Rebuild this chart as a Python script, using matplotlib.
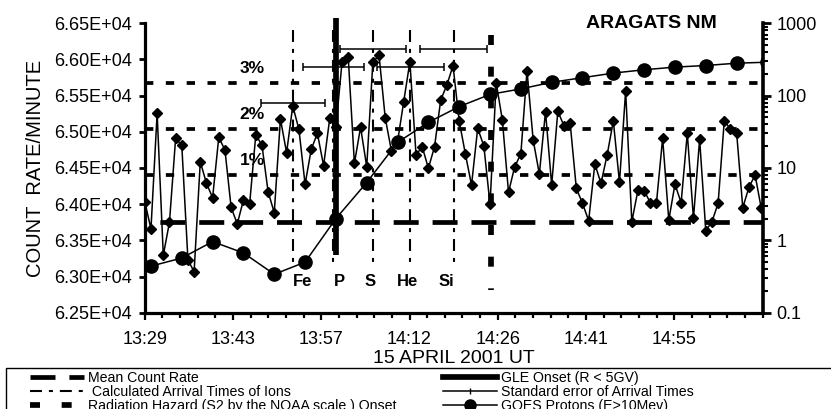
import numpy as np
import matplotlib
matplotlib.use('Agg')
import matplotlib.pyplot as plt
from matplotlib.lines import Line2D
from matplotlib.patches import Rectangle
from matplotlib.ticker import FixedLocator, MultipleLocator, FuncFormatter, LogLocator, NullFormatter

plt.rcParams['font.family'] = ['Liberation Sans', 'DejaVu Sans']
plt.rcParams['lines.scale_dashes'] = False

# Aragats NM, counts per minute, one value a minute starting 13:29 UT
nm_count = [64034, 63657, 65256, 63293, 63750, 64910, 64814, 63228, 63067, 64587,
            64289, 64090, 64924, 64749, 63957, 63726, 64058, 63998, 64956, 64818,
            64172, 63882, 65177, 64712, 65357, 65035, 64275, 64758, 64979, 64532,
            65187, 65063, 65969, 66030, 64565, 65063, 64518, 65969, 66055, 65194,
            64739, 64864, 65417, 65969, 64680, 64795, 64496, 64795, 65440, 65647,
            65914, 65150, 64694, 64265, 65049, 64804, 63998, 65679, 65163, 64164,
            64518, 64694, 65845, 64887, 64417, 65278, 64265, 65285, 65081, 65118,
            64219, 64012, 63772, 64555, 64289, 64680, 65150, 64302, 65568, 63758,
            64196, 64187, 64021, 64021, 64910, 63781, 64275, 64021, 64979, 63805,
            64897, 63634, 63758, 64012, 65154, 65035, 64988, 63951, 64233, 64403,
            63943]
t_nm = np.arange(len(nm_count))

# GOES protons E>10 MeV (pfu), 5-min values, minutes after 13:29
goes_t = [-4, 1, 6, 11, 16, 21, 26, 31, 36, 41, 46, 51, 56, 61, 66, 71, 76, 81, 86, 91, 96, 101]
goes_flux = [0.65, 0.44, 0.57, 0.96, 0.67, 0.34, 0.50, 2.0, 6.3, 22.6, 42.8, 70.6,
             104, 124, 153, 177, 205, 228, 248, 261, 281, 290]

mean_rate = 63760
pct_levels = [1, 2, 3]

ion_names = ['Fe', 'P', 'S', 'He', 'Si']
ion_arrival = [24.1, 30.6, 37.0, 43.1, 50.1]
ion_err = [5.2, 4.9, 5.4, 5.4, 5.4]
ion_err_y = [65400, 65900, 66150, 65900, 66150]

gle_onset = 31.0
hazard_onset = 56.2

tick_labels = ['13:29', '13:43', '13:57', '14:12', '14:26', '14:41', '14:55']

fig = plt.figure(figsize=(8.31, 4.09), dpi=100)
ax = fig.add_axes([144.8/831, 1-312.7/409, (762.5-144.8)/831, (312.7-23.3)/409])
ax2 = ax.twinx()

xmax = 100.2
step = xmax / 7

# threshold lines
ax.axhline(mean_rate, color='k', lw=3.4, ls=(17.3, (18, 10)), zorder=2)
for p in pct_levels:
    lev = mean_rate * (1 + p / 100)
    ax.axhline(lev, color='k', lw=2.7, ls=(0, (6, 9)), zorder=2)
    ax.text(15.4, lev + 200, f'{p}%', fontsize=12.5, fontweight='bold', ha='left', va='center')

# ion arrival times
for t in ion_arrival:
    ax.plot([t, t], [66407, 63145], color='k', lw=1.5, ls=(0, (8.6, 5, 2.9, 5)), zorder=2)
label_x = [24.1, 30.6, 35.7, 40.9, 47.7]
for lx, name in zip(label_x, ion_names):
    ax.text(lx, 62928, name, fontsize=12, fontweight='bold', ha='left', va='center')

ax.errorbar(ion_arrival, ion_err_y, xerr=ion_err, fmt='none', ecolor='k',
            elinewidth=1.1, capsize=3, capthick=1.1, zorder=3)

# GLE onset and radiation hazard onset
ax.plot([gle_onset, gle_onset], [66570, 63300], color='k', lw=4.1, solid_capstyle='butt',
        clip_on=False, zorder=2.5)
ax.plot([hazard_onset, hazard_onset], [66338, 62814], color='k', lw=4.1,
        ls=(0, (7.2, 15.6)), zorder=2.5)

ax.plot(t_nm, nm_count, color='k', lw=1.1, marker='D', ms=5, zorder=3)

ax2.plot(goes_t, goes_flux, color='k', lw=1.1, marker='o', ms=9.5, zorder=3)

ax.set_xlim(0, xmax)
ax.set_ylim(62500, 66500)
ax2.set_yscale('log')
ax2.set_ylim(0.1, 1000)

ax.xaxis.set_major_locator(FixedLocator(np.arange(7) * step))
ax.xaxis.set_minor_locator(MultipleLocator(step / 5))
ax.set_xticklabels(tick_labels)
ax.yaxis.set_major_locator(MultipleLocator(500))
ax.yaxis.set_major_formatter(FuncFormatter(lambda v, pos: f'{v:.2E}'))

ax2.yaxis.set_major_locator(LogLocator(base=10, numticks=10))
ax2.yaxis.set_minor_locator(LogLocator(base=10, subs=np.arange(2, 10), numticks=10))
ax2.yaxis.set_minor_formatter(NullFormatter())
ax2.yaxis.set_major_formatter(FuncFormatter(lambda v, pos: f'{v:g}'))

ax.tick_params(axis='x', which='major', direction='out', length=5, width=1.6, pad=8, labelsize=13)
ax.tick_params(axis='x', which='minor', direction='out', length=3.5, width=1.6)
ax.tick_params(axis='y', which='major', direction='out', length=4.5, width=2, pad=5, labelsize=13)
ax2.tick_params(axis='y', which='major', direction='out', length=5.5, width=2, pad=4.5, labelsize=13)
ax2.tick_params(axis='y', which='minor', direction='out', length=3.5, width=1.5)

for a in (ax, ax2):
    a.spines['top'].set_visible(False)
ax.spines['right'].set_visible(False)
ax2.spines['left'].set_visible(False)
ax2.spines['bottom'].set_visible(False)
ax.spines['left'].set_linewidth(2.3)
ax.spines['bottom'].set_linewidth(2.3)
ax2.spines['right'].set_linewidth(2.6)

ax.set_xlabel('15 APRIL 2001 UT', fontsize=14, labelpad=1.5)
ax.set_ylabel('COUNT  RATE/MINUTE', fontsize=14.5, labelpad=6)
ax.text(0.82, 1.0, 'ARAGATS NM', transform=ax.transAxes, fontsize=14, fontweight='bold',
        ha='center', va='center')

# legend (cut off at the bottom of the picture)
handles = [
    Line2D([], [], color='k', lw=3.4, ls=(0, (18, 10))),
    Line2D([], [], color='k', lw=1.5, ls=(0, (8.6, 5, 2.9, 5))),
    Line2D([], [], color='k', lw=4.1, ls=(0, (7.2, 15.6))),
    Line2D([], [], color='k', lw=4.1),
    Line2D([], [], color='k', lw=1.1, marker='|', ms=5),
    Line2D([], [], color='k', lw=1.1, marker='o', ms=8),
]
labels = ['Mean Count Rate', ' Calculated Arrival Times of Ions',
          'Radiation Hazard (S2 by the NOAA scale ) Onset',
          'GLE Onset (R < 5GV)', 'Standard error of Arrival Times',
          'GOES Protons (E>10Mev)']
fig.legend(handles, labels, loc='upper left', bbox_to_anchor=(30/831, 1-371/409),
           ncol=2, frameon=False, fontsize=10.2, handlelength=3.8, handletextpad=0.3,
           columnspacing=3.3, labelspacing=0.0, borderpad=0, borderaxespad=0, numpoints=1)
fig.add_artist(Rectangle((6/831, -0.05), 1.0, 0.05 + 1-368/409, transform=fig.transFigure,
                         fill=False, lw=1, edgecolor='k'))

fig.savefig('out.png', dpi=100)
